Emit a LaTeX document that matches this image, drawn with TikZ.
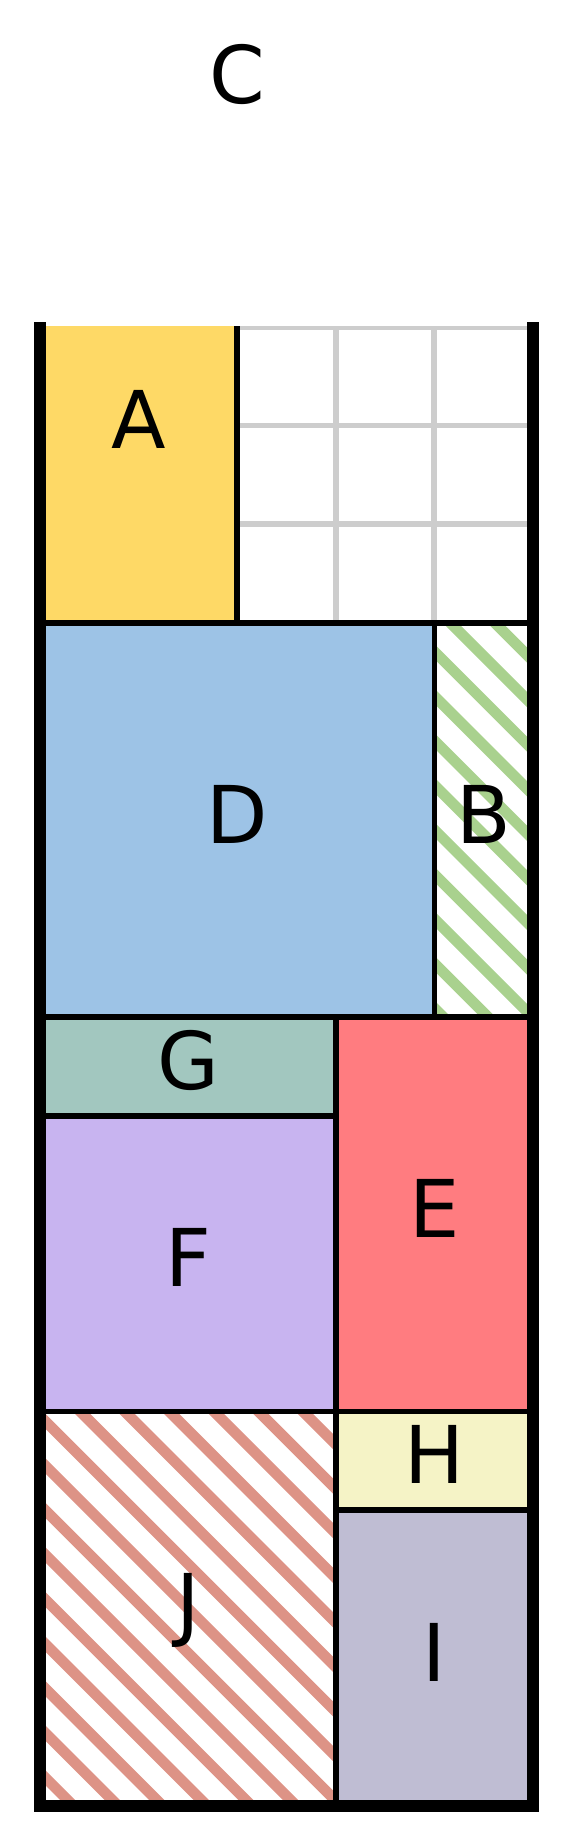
\documentclass[tikz,border=0pt]{standalone}
\usepackage{fontspec}
\setmainfont{DejaVu Sans}
\definecolor{cA}{HTML}{FED966}
\definecolor{cD}{HTML}{9DC3E6}
\definecolor{cG}{HTML}{A2C7BF}
\definecolor{cF}{HTML}{C8B4F0}
\definecolor{cE}{HTML}{FF7C80}
\definecolor{cH}{HTML}{F5F3C6}
\definecolor{cI}{HTML}{BFBDD3}
\definecolor{hB}{HTML}{A9D18E}
\definecolor{hJ}{HTML}{DD9386}
\definecolor{gridgrey}{HTML}{CDCDCD}
\begin{document}
\begin{tikzpicture}[x=1cm,y=1cm,
  piece/.style={draw=black, line width=1.6pt},
  lbl/.style={font=\fontsize{23}{27}\selectfont, inner sep=0pt, text height=16.77pt, text depth=0pt, yshift=0.06cm},
  gridln/.style={draw=gridgrey, line width=1.7pt},
  hatchln/.style={line width=3.1pt},
  boardbar/.style={draw=black, line width=3.4pt, line join=miter, line cap=butt}
]
\useasboundingbox (-0.406,-0.396) rectangle (5.395,18.316);
\begin{scope}
  \clip (0,0) rectangle (5,15);
  % background grid
  \draw[gridln] (0,0) grid (5,15);
  % A (extends beyond the board top, clipped)
  \path[piece, fill=cA] (0,12) rectangle (2,16);
  % D
  \path[piece, fill=cD] (0,8) rectangle (4,12);
  % B (hatched)
  \fill[white] (4,8) rectangle (5,12);
  \begin{scope}
    \clip (4,8) rectangle (5,12);
    \foreach \k in {26,...,38} {
      \pgfmathsetmacro{\c}{0.34+0.452*\k}
      \draw[hatchln, hB] (\c-13,13) -- (\c-7,7);
    }
  \end{scope}
  \path[piece] (4,8) rectangle (5,12);
  % G
  \path[piece, fill=cG] (0,7) rectangle (3,8);
  % F
  \path[piece, fill=cF] (0,4) rectangle (3,7);
  % E
  \path[piece, fill=cE] (3,4) rectangle (5,8);
  % J (hatched)
  \fill[white] (0,0) rectangle (3,4);
  \begin{scope}
    \clip (0,0) rectangle (3,4);
    \foreach \k in {-2,...,17} {
      \pgfmathsetmacro{\c}{0.34+0.452*\k}
      \draw[hatchln, hJ] (\c-5,5) -- (\c+1,-1);
    }
  \end{scope}
  \path[piece] (0,0) rectangle (3,4);
  % H
  \path[piece, fill=cH] (3,3) rectangle (5,4);
  % I
  \path[piece, fill=cI] (3,0) rectangle (5,3);
\end{scope}
% board walls
\draw[boardbar] (0,15.05) -- (0,0) -- (5,0) -- (5,15.05);
% labels
\node[lbl] (labA) at (1,14) {A};
\node[lbl] (labB) at (4.5,10) {B};
\node[lbl] (labC) at (2,17.5) {C};
\node[lbl] (labD) at (2,10) {D};
\node[lbl] (labE) at (4,6) {E};
\node[lbl] (labF) at (1.5,5.5) {F};
\node[lbl] (labG) at (1.5,7.5) {G};
\node[lbl] (labH) at (4,3.5) {H};
\node[lbl] (labI) at (4,1.5) {I};
\node[lbl] (labJ) at (1.5,2) {J};
\end{tikzpicture}
\end{document}
